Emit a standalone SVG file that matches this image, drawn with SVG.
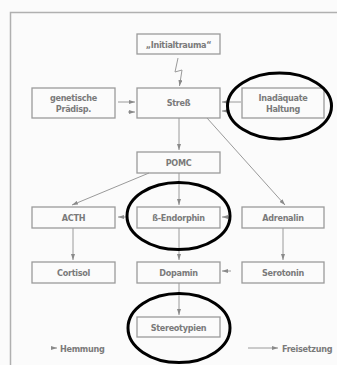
<svg xmlns="http://www.w3.org/2000/svg" width="337" height="365" viewBox="0 0 337 365">
<style>
.box{fill:none;stroke:#9a9a9a;stroke-width:1.3}
.t{font-family:"Liberation Sans Narrow","DejaVu Sans Condensed","Liberation Sans",sans-serif;font-stretch:condensed;font-weight:bold;font-size:9px;letter-spacing:-0.3px;fill:#7a7a7a;text-anchor:middle}
.c{fill:none;stroke:#9a9a9a;stroke-width:1}
.ring{fill:none;stroke:#000;stroke-width:3}
</style>
<defs>
<marker id="ah" markerWidth="6" markerHeight="4" refX="6" refY="2" orient="auto" markerUnits="userSpaceOnUse">
<path d="M0,0 L6,2 L0,4 Z" fill="#8a8a8a"/>
</marker>
</defs>
<rect width="337" height="365" fill="#fbfbfb"/>
<path d="M10.5,365 V12.5 H337" fill="none" stroke="#b0b0b0" stroke-width="1.5"/>

<g id="connectors">
<polyline class="c" points="178,58 175,72 182,70 179.5,86" marker-end="url(#ah)"/>
<line class="c" x1="118" y1="102" x2="135" y2="102" marker-end="url(#ah)"/>
<line class="c" x1="128" y1="112" x2="135" y2="112" marker-end="url(#ah)"/>
<line class="c" x1="241" y1="102" x2="222" y2="102" marker-end="url(#ah)"/>
<line class="c" x1="230" y1="111" x2="222" y2="111" marker-end="url(#ah)"/>
<line class="c" x1="179" y1="118" x2="179" y2="150" marker-end="url(#ah)"/>
<line class="c" x1="207" y1="118" x2="285" y2="205" marker-end="url(#ah)"/>
<line class="c" x1="149" y1="173" x2="72" y2="205" marker-end="url(#ah)"/>
<line class="c" x1="179" y1="173" x2="179" y2="205" marker-end="url(#ah)"/>
<line class="c" x1="128" y1="217" x2="118" y2="217" marker-end="url(#ah)"/>
<line class="c" x1="231" y1="217" x2="222" y2="217" marker-end="url(#ah)"/>
<line class="c" x1="73" y1="228" x2="73" y2="260" marker-end="url(#ah)"/>
<line class="c" x1="179" y1="228" x2="179" y2="260" marker-end="url(#ah)"/>
<line class="c" x1="283" y1="228" x2="283" y2="260" marker-end="url(#ah)"/>
<line class="c" x1="231" y1="271" x2="222" y2="271" marker-end="url(#ah)"/>
<line class="c" x1="179" y1="283" x2="179" y2="315" marker-end="url(#ah)"/>
</g>

<g id="n-initialtrauma"><rect class="box" x="137" y="34" width="83" height="20"/><text class="t" x="178.5" y="47.5">„Initialtrauma“</text></g>
<g id="n-genetische"><rect class="box" x="32" y="88" width="83" height="30"/><text class="t" x="73.5" y="100.5">genetische</text><text class="t" x="73.5" y="112">Prädisp.</text></g>
<g id="n-stress"><rect class="box" x="137" y="88" width="83" height="30"/><text class="t" x="178.5" y="106">Streß</text></g>
<g id="n-haltung"><rect class="box" x="242" y="88" width="82" height="30"/><text class="t" x="283" y="100.5">Inadäquate</text><text class="t" x="283" y="112">Haltung</text></g>
<g id="n-pomc"><rect class="box" x="137" y="152" width="83" height="21"/><text class="t" x="178.5" y="166">POMC</text></g>
<g id="n-acth"><rect class="box" x="32" y="207" width="83" height="21"/><text class="t" x="73.5" y="221">ACTH</text></g>
<g id="n-endorphin"><rect class="box" x="137" y="207" width="83" height="21"/><text class="t" x="178.5" y="221">ß-Endorphin</text></g>
<g id="n-adrenalin"><rect class="box" x="242" y="207" width="82" height="21"/><text class="t" x="283" y="221">Adrenalin</text></g>
<g id="n-cortisol"><rect class="box" x="32" y="262" width="83" height="21"/><text class="t" x="73.5" y="276">Cortisol</text></g>
<g id="n-dopamin"><rect class="box" x="137" y="262" width="83" height="21"/><text class="t" x="178.5" y="276">Dopamin</text></g>
<g id="n-serotonin"><rect class="box" x="242" y="262" width="82" height="21"/><text class="t" x="283" y="276">Serotonin</text></g>
<g id="n-stereotypien"><rect class="box" x="137" y="317" width="83" height="20"/><text class="t" x="178.5" y="330.5">Stereotypien</text></g>

<g id="legend">
<line class="c" x1="51" y1="348" x2="57" y2="348" marker-end="url(#ah)"/>
<text class="t" x="60" y="351.5" style="text-anchor:start">Hemmung</text>
<line class="c" x1="248" y1="348" x2="278" y2="348" marker-end="url(#ah)"/>
<text class="t" x="282" y="351.5" style="text-anchor:start">Freisetzung</text>
</g>

<g id="highlights">
<ellipse class="ring" cx="279.5" cy="106" rx="52" ry="33"/>
<ellipse class="ring" cx="178.5" cy="216" rx="51.5" ry="33.5"/>
<ellipse class="ring" cx="179" cy="328" rx="51" ry="34.5"/>
</g>
</svg>
